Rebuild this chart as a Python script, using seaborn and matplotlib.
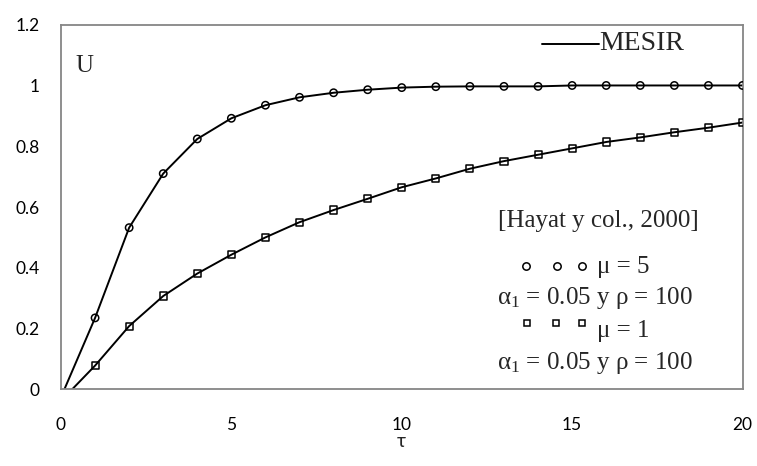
import matplotlib
matplotlib.use("Agg")
import matplotlib.pyplot as plt
import seaborn as sns

# MESIR solution curves, sampled at integer tau (tau = 0 value lies just below the axis)
tau_line = list(range(0, 21))
u_mesir_mu5 = [-0.026, 0.235, 0.532, 0.710, 0.824, 0.892, 0.935, 0.961, 0.976, 0.986,
               0.993, 0.996, 0.997, 0.997, 0.997, 1.000, 1.000, 1.000, 1.000, 1.000, 1.000]
u_mesir_mu1 = [-0.038, 0.078, 0.208, 0.307, 0.381, 0.443, 0.500, 0.550, 0.590, 0.627,
               0.665, 0.694, 0.726, 0.751, 0.772, 0.793, 0.814, 0.829, 0.846, 0.861, 0.878]

# Reference points from Hayat y col. (2000)
tau_pts = list(range(1, 21))
u_hayat_mu5 = [0.235, 0.532, 0.710, 0.824, 0.892, 0.935, 0.961, 0.976, 0.986, 0.993,
               0.996, 0.997, 0.997, 0.997, 1.000, 1.000, 1.000, 1.000, 1.000, 1.000]
u_hayat_mu1 = [0.078, 0.208, 0.307, 0.381, 0.443, 0.500, 0.550, 0.590, 0.627, 0.665,
               0.694, 0.726, 0.751, 0.772, 0.793, 0.814, 0.829, 0.846, 0.861, 0.878]

x_ticks = [0, 5, 10, 15, 20]
y_ticks = [0, 0.2, 0.4, 0.6, 0.8, 1.0, 1.2]
y_tick_labels = ["0", "0.2", "0.4", "0.6", "0.8", "1", "1.2"]

sns.set_style("white")
plt.rcParams["font.family"] = ["Lato", "DejaVu Sans"]
plt.rcParams["mathtext.fontset"] = "custom"
plt.rcParams["mathtext.rm"] = "Liberation Serif"
plt.rcParams["mathtext.it"] = "Liberation Serif:italic"

W, H = 757, 466
GRAY = "#868686"
SERIF = ["Liberation Serif", "DejaVu Serif"]

fig = plt.figure(figsize=(W / 100, H / 100), dpi=100)
ax = fig.add_axes([61 / W, 76.7 / H, (742.5 - 61) / W, (389.3 - 24.7) / H])

def fx(px):
    return px / W

def fy(py):
    return 1 - py / H

# continuous curves
for u in (u_mesir_mu5, u_mesir_mu1):
    sns.lineplot(x=tau_line, y=u, color="black", linewidth=1.4, ax=ax)

# discrete reference points, hollow markers
sns.scatterplot(x=tau_pts, y=u_hayat_mu5, marker="o", s=28, facecolor="none",
                edgecolor="black", linewidth=1.1, ax=ax, zorder=3)
sns.scatterplot(x=tau_pts, y=u_hayat_mu1, marker="s", s=26, facecolor="none",
                edgecolor="black", linewidth=1.1, ax=ax, zorder=3)

ax.set_xlim(0, 20)
ax.set_ylim(0, 1.2)
ax.set_xticks(x_ticks)
ax.set_yticks(y_ticks)
ax.set_yticklabels(y_tick_labels)
ax.tick_params(axis="both", direction="out", length=4.3, width=1.1, color=GRAY,
               labelsize=12.5, labelcolor="black")
ax.tick_params(axis="y", pad=11)
ax.tick_params(axis="x", pad=16)
for sp in ax.spines.values():
    sp.set_visible(True)
    sp.set_color(GRAY)
    sp.set_linewidth(1.3)

ax.set_xlabel("τ", fontsize=14, labelpad=0)
ax.set_ylabel("")

# in-plot annotations
fig.text(fx(75), fy(66), "U", family=SERIF, fontsize=18, va="center", ha="left")

fig.add_artist(plt.Line2D([fx(541.7), fx(599)], [fy(43.5), fy(43.5)], color="black",
                          linewidth=1.4))
fig.text(fx(599), fy(44), "MESIR", family=SERIF, fontsize=20, va="center", ha="left")

fig.text(fx(598), fy(221), "[Hayat y col., 2000]", family=SERIF, fontsize=18,
         va="center", ha="center")

fig.add_artist(plt.Line2D([fx(526), fx(556.7), fx(581.7)], [fy(266)] * 3, linestyle="none",
                          marker="o", markersize=5.3, markerfacecolor="none",
                          markeredgecolor="black", markeredgewidth=1.1))
fig.text(fx(596.7), fy(266.5), "μ = 5", family=SERIF, fontsize=18, va="center", ha="left")
fig.text(fx(595), fy(298), r"$\mathrm{α}_{\mathrm{1}}$ = 0.05 y ρ = 100", family=SERIF,
         fontsize=18, va="center", ha="center")

fig.add_artist(plt.Line2D([fx(526.7), fx(556), fx(581.7)], [fy(322.7)] * 3, linestyle="none",
                          marker="s", markersize=5.0, markerfacecolor="none",
                          markeredgecolor="black", markeredgewidth=1.1))
fig.text(fx(596.7), fy(331.5), "μ = 1", family=SERIF, fontsize=18, va="center", ha="left")
fig.text(fx(595), fy(363), r"$\mathrm{α}_{\mathrm{1}}$ = 0.05 y ρ = 100", family=SERIF,
         fontsize=18, va="center", ha="center")

fig.savefig("out.png", dpi=100)
